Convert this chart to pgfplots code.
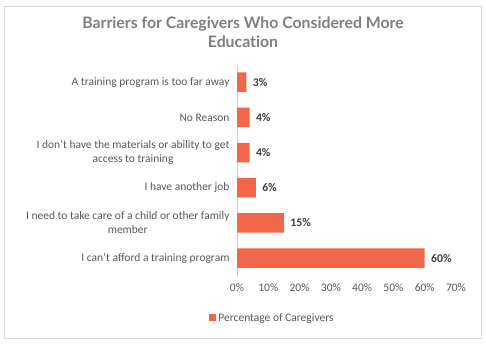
\documentclass[border=0pt]{standalone}
\usepackage{pgfplots}
\pgfplotsset{compat=1.18}
\usepackage{fontspec}
\setmainfont{Carlito}
\newfontfamily\titlefont[Ligatures=NoCommon]{Lato}
\definecolor{barc}{HTML}{F26649}
\definecolor{txtc}{HTML}{595959}
\definecolor{ttlc}{HTML}{7F7F7F}
\definecolor{lblc}{HTML}{404040}
\begin{document}
\begin{tikzpicture}[x=1pt,y=1pt]
\useasboundingbox (0,0) rectangle (486,-343);
\draw[draw=black!15, line width=0.8pt] (4,-6) rectangle (481,-338);
\node[font=\titlefont\bfseries\fontsize{15.8}{19.5}\selectfont, text=ttlc, align=center] at (243,-32) {Barriers for Caregivers Who Considered More\\Education};
\begin{axis}[
  at={(237pt,-275.6pt)}, anchor=south west,
  scale only axis, width=219pt, height=211pt,
  xbar, bar width=19.5pt,
  xmin=0, xmax=70, ymin=-0.5, ymax=5.5,
  xtick={0,10,...,70},
  xticklabel={\pgfmathprintnumber{\tick}\%},
  ytick={0,1,2,3,4,5},
  yticklabels={{I can't afford a training program},{I need to take care of a child or other family\\member},{I have another job},{I don't have the materials or ability to get\\access to training},{No Reason},{A training program is too far away}},
  yticklabel style={align=center, font=\fontsize{11.5}{14}\selectfont, text=txtc, xshift=-4pt},
  xticklabel style={font=\fontsize{11.5}{14}\selectfont, text=txtc, yshift=-5pt},
  /pgf/number format/assume math mode=true,
  major tick length=0pt,
  axis x line*=bottom,
  x axis line style={draw=none},
  axis y line*=left,
  y axis line style={draw=black!20, -},
  nodes near coords={\pgfmathprintnumber{\pgfplotspointmeta}\%},
  nodes near coords style={font=\bfseries\fontsize{11.7}{14}\selectfont, text=lblc, xshift=3pt},
  legend style={at={(0.162,-0.2)}, anchor=center, draw=none, font=\fontsize{11.5}{14}\selectfont, text=txtc, inner sep=0pt},
  legend image code/.code={\fill[barc] (0pt,-3.5pt) rectangle (7pt,3.5pt);},
]
\addplot[fill=barc, draw=none] coordinates {(60,0) (15,1) (6,2) (4,3) (4,4) (3,5)};
\addlegendentry{Percentage of Caregivers}
\end{axis}
\end{tikzpicture}
\end{document}
